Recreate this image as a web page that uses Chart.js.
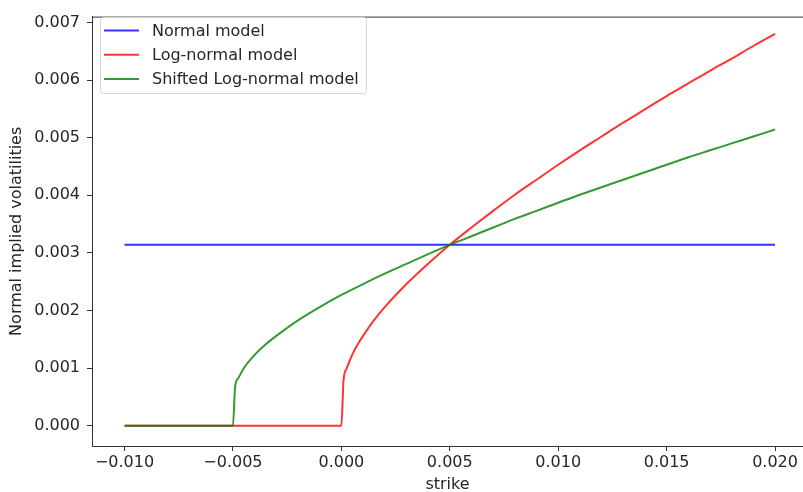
<!DOCTYPE html>
<html>
<head>
<meta charset="utf-8">
<script src="https://cdn.jsdelivr.net/npm/chart.js@4/dist/chart.umd.min.js"></script>
<style>
    body { margin: 0; background: #fff; }
    #wrap { width: 803px; height: 492px; position: relative; }
</style>
</head>
<body>
<div id="wrap"><canvas id="volChart"></canvas></div>
<script>
// Données
const xTicks = [-0.010, -0.005, 0.000, 0.005, 0.010, 0.015, 0.020];
const yTicks = [0.000, 0.001, 0.002, 0.003, 0.004, 0.005, 0.006, 0.007];

const normalStrike = [-0.010, 0.020];
const normalVol = [0.00314, 0.00314];

const logStrike = [-0.010, -0.005, 0.000, 0.0001, 0.00025, 0.0005, 0.00075, 0.001, 0.0015, 0.002,
    0.003, 0.004, 0.005, 0.006, 0.007, 0.008, 0.009, 0.010, 0.011, 0.012, 0.013, 0.014, 0.015,
    0.016, 0.017, 0.018, 0.019, 0.020];
const logVol = [0, 0, 0, 0.00079, 0.00100, 0.00123, 0.00141, 0.00156, 0.00183, 0.00206,
    0.00246, 0.00281, 0.00314, 0.00344, 0.00373, 0.00401, 0.00427, 0.00453, 0.00478, 0.00502,
    0.00526, 0.00549, 0.00572, 0.00594, 0.00616, 0.00637, 0.00659, 0.00680];

const shiftStrike = [-0.010, -0.005, -0.0049, -0.00475, -0.0045, -0.004, -0.0035, -0.003, -0.002, -0.001,
    0.000, 0.001, 0.002, 0.003, 0.004, 0.005, 0.006, 0.007, 0.008, 0.009, 0.010, 0.011, 0.012,
    0.013, 0.014, 0.015, 0.016, 0.017, 0.018, 0.019, 0.020];
const shiftVol = [0, 0, 0.00068, 0.00083, 0.00100, 0.00123, 0.00141, 0.00156, 0.00183, 0.00206,
    0.00227, 0.00246, 0.00264, 0.00281, 0.00298, 0.00314, 0.00329, 0.00344, 0.00359, 0.00373,
    0.00387, 0.00401, 0.00414, 0.00427, 0.00440, 0.00453, 0.00466, 0.00478, 0.00490, 0.00502, 0.00514];

const FONT = 'DejaVu Sans';
const FONT_SIZE = 16;
const TEXT = '#262626';
const AXIS = '#333333';

function toPoints(xs, ys) {
    return xs.map((x, i) => ({ x: x, y: ys[i] }));
}

function fmt(v) {
    return v.toFixed(3).replace('-', '\u2212');
}

// Cadre du haut + légende façon matplotlib
const framePlugin = {
    id: 'frame',
    afterDraw(chart) {
        const ctx = chart.ctx;
        const a = chart.chartArea;
        ctx.save();
        ctx.strokeStyle = AXIS;
        ctx.lineWidth = 1;
        ctx.beginPath();
        ctx.moveTo(a.left, a.top + 0.5);
        ctx.lineTo(a.right, a.top + 0.5);
        ctx.stroke();

        // légende
        const bx = 100, by = 17, bw = 266, bh = 76;
        ctx.fillStyle = 'rgba(255,255,255,0.8)';
        ctx.strokeStyle = '#d6d6d6';
        ctx.beginPath();
        ctx.roundRect(bx + 0.5, by + 0.5, bw, bh, 3);
        ctx.fill();
        ctx.stroke();

        ctx.font = FONT_SIZE + 'px "' + FONT + '"';
        ctx.textBaseline = 'middle';
        chart.data.datasets.forEach((ds, i) => {
            const y = 30.5 + i * 24.3;
            ctx.strokeStyle = ds.borderColor;
            ctx.lineWidth = 2;
            ctx.beginPath();
            ctx.moveTo(104, y);
            ctx.lineTo(139, y);
            ctx.stroke();
            ctx.fillStyle = TEXT;
            ctx.fillText(ds.label, 152, y + 1);
        });
        ctx.restore();
    }
};

const chart = new Chart(document.getElementById('volChart').getContext('2d'), {
    type: 'line',
    data: {
        datasets: [
            {
                label: 'Normal model',
                data: toPoints(normalStrike, normalVol),
                borderColor: 'rgba(0, 0, 255, 0.8)',
                borderWidth: 2,
                pointRadius: 0,
                order: 3
            },
            {
                label: 'Log-normal model',
                data: toPoints(logStrike, logVol),
                borderColor: 'rgba(255, 0, 0, 0.8)',
                borderWidth: 2,
                pointRadius: 0,
                cubicInterpolationMode: 'monotone',
                order: 2
            },
            {
                label: 'Shifted Log-normal model',
                data: toPoints(shiftStrike, shiftVol),
                borderColor: 'rgba(0, 128, 0, 0.8)',
                borderWidth: 2,
                pointRadius: 0,
                cubicInterpolationMode: 'monotone',
                order: 1
            }
        ]
    },
    options: {
        responsive: true,
        maintainAspectRatio: false,
        animation: false,
        layout: { padding: { top: 9, right: 0, left: 0, bottom: 0 } },
        plugins: {
            legend: { display: false },
            tooltip: { enabled: false }
        },
        scales: {
            x: {
                type: 'linear',
                min: -0.0115,
                max: 0.02129,
                afterBuildTicks: scale => { scale.ticks = xTicks.map(v => ({ value: v })); },
                afterFit: scale => { scale.height = 46; },
                grid: { drawOnChartArea: false, drawTicks: true, tickLength: 5, color: AXIS },
                border: { display: true, color: AXIS, width: 1 },
                ticks: {
                    padding: 2,
                    color: TEXT,
                    font: { family: FONT, size: FONT_SIZE },
                    maxRotation: 0,
                    callback: v => fmt(v)
                },
                title: {
                    display: true,
                    text: 'strike',
                    color: TEXT,
                    font: { family: FONT, size: FONT_SIZE },
                    padding: { top: 0, bottom: -2 }
                }
            },
            y: {
                type: 'linear',
                min: -0.00035,
                max: 0.0071,
                afterBuildTicks: scale => { scale.ticks = yTicks.map(v => ({ value: v })); },
                afterFit: scale => { scale.width = 92; },
                grid: { drawOnChartArea: false, drawTicks: true, tickLength: 5, color: AXIS },
                border: { display: true, color: AXIS, width: 1 },
                ticks: {
                    padding: 7,
                    color: TEXT,
                    font: { family: FONT, size: FONT_SIZE },
                    callback: v => fmt(v)
                },
                title: {
                    display: true,
                    text: 'Normal implied volatilities',
                    color: TEXT,
                    font: { family: FONT, size: FONT_SIZE },
                    padding: { top: 7, bottom: 0 }
                }
            }
        }
    },
    plugins: [framePlugin]
});
</script>
</body>
</html>
